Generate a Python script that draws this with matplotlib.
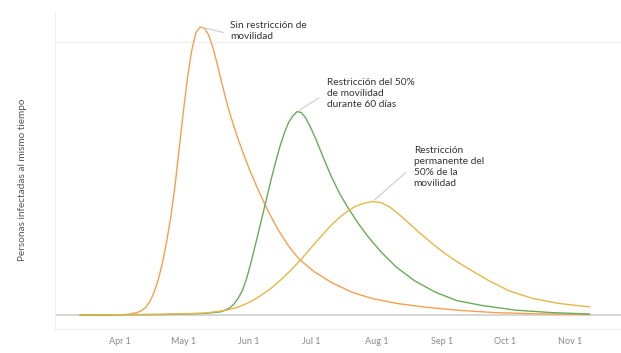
import matplotlib
matplotlib.use('Agg')
import matplotlib.pyplot as plt
import matplotlib.dates as mdates
import matplotlib.ticker as mticker
import pandas as pd

# Base date: day 0 = April 1
start = pd.Timestamp('2020-04-01')

# Sin restricción de movilidad (orange)
sin_dias = [-19, 0, 4, 8, 10, 12, 14, 16, 18, 20, 22, 24, 26, 28, 30, 32, 34, 36, 38,
            40, 42, 44, 46, 48, 50, 52, 55, 58, 62, 66, 70, 75, 80, 85, 92, 100, 110,
            120, 132, 145, 160, 178, 200, 223]
sin_vals = [0, 1, 3, 9, 16, 27, 49, 81, 128, 189, 267, 357, 471, 608, 746, 871, 970,
            1035, 1055, 1051, 1026, 981, 923, 859, 797, 741, 668, 602, 522, 451, 385,
            313, 253, 205, 160, 121, 84, 60, 42, 29, 18, 9, 4, 2]

# Restricción del 50% durante 60 días (green)
r60_dias = [-19, 20, 40, 48, 52, 54, 56, 58, 60, 62, 64, 66, 68, 70, 72, 74, 76, 78, 80,
            82, 84, 86, 88, 90, 93, 96, 100, 104, 108, 113, 118, 124, 131, 140, 150,
            160, 172, 188, 205, 223]
r60_vals = [0, 2, 6, 12, 26, 40, 61, 89, 132, 188, 250, 313, 377, 441, 505, 565, 620,
            667, 705, 729, 745, 742, 724, 695, 644, 587, 513, 449, 396, 337, 285, 231,
            177, 125, 83, 53, 35, 18, 9, 4]

# Restricción permanente del 50% (yellow)
perm_dias = [-19, 20, 40, 50, 56, 60, 64, 68, 72, 76, 80, 84, 88, 92, 96, 100, 104, 108,
             112, 116, 120, 124, 128, 132, 137, 142, 148, 154, 160, 167, 175, 185, 196,
             208, 223]
perm_vals = [0, 3, 7, 17, 29, 42, 58, 78, 100, 127, 156, 188, 222, 258, 293, 327, 356,
             380, 399, 410, 416, 412, 396, 372, 338, 303, 264, 227, 196, 163, 127, 88,
             61, 43, 30]

etiquetas = ['Sin restricción de\nmovilidad',
             'Restricción del 50%\nde movilidad\ndurante 60 días',
             'Restricción\npermanente del\n50% de la\nmovilidad']


def to_dates(dias):
    return start + pd.to_timedelta(dias, unit='D')


plt.rcParams['font.family'] = ['Lato', 'DejaVu Sans']

fig = plt.figure(figsize=(6.21, 3.53), dpi=100)
ax = fig.add_axes([55 / 621, 1 - 329 / 353, 1 - 55 / 621, (329 - 12) / 353])

series = [
    (sin_dias, sin_vals, '#f5a04f'),
    (r60_dias, r60_vals, '#6aaa58'),
    (perm_dias, perm_vals, '#e3b847'),
]
for dias, vals, color in series:
    ax.plot(to_dates(dias), vals, color=color, lw=1.0, zorder=3)

# axes limits
ax.set_xlim(start - pd.Timedelta(days=31), start + pd.Timedelta(days=238))
ax.set_ylim(-51, 1110)

# grid / frame
ax.axhline(0, color='#cfcfcf', lw=1.2, zorder=2)
ax.axhline(1000, color='#f0f0f0', lw=0.8, zorder=1)
for s in ['top', 'right']:
    ax.spines[s].set_visible(False)
ax.spines['left'].set_color('#efefef')
ax.spines['bottom'].set_color('#efefef')
ax.spines['left'].set_linewidth(0.8)
ax.spines['bottom'].set_linewidth(0.8)

ax.xaxis.set_major_locator(mdates.MonthLocator(bymonthday=1))
ax.xaxis.set_major_formatter(
    mticker.FuncFormatter(lambda v, p: '{:%b} {}'.format(mdates.num2date(v), mdates.num2date(v).day)))
ax.set_xticks([d for d in ax.get_xticks() if start <= mdates.num2date(d).replace(tzinfo=None) <= start + pd.Timedelta(days=215)])
ax.tick_params(axis='x', length=0, labelsize=6.5, labelcolor='#8a8a8a', pad=6)
ax.set_yticks([])

ax.set_ylabel('Personas infectadas al mismo tiempo', fontsize=7.2, color='#555555')
ax.yaxis.set_label_coords(-0.049, 0.47)

# annotations
peaks = [(sin_dias, sin_vals), (r60_dias, r60_vals), (perm_dias, perm_vals)]
leader_end = [(17, -4), (16, 10), (24, 21)]
text_off = [(21.5, 4.5), (21.5, 24.5), (29.5, 40)]
for (dias, vals), txt, le, to in zip(peaks, etiquetas, leader_end, text_off):
    i = vals.index(max(vals))
    xy = (to_dates([dias[i]])[0], vals[i])
    ax.annotate('', xy=xy, xytext=le, textcoords='offset points',
                arrowprops=dict(arrowstyle='-', color='#cccccc', lw=0.8,
                                shrinkA=0, shrinkB=2))
    ax.annotate(txt, xy=xy, xytext=to, textcoords='offset points',
                ha='left', va='top', fontsize=7.3, color='#333333', linespacing=1.3)

fig.savefig('out.png', dpi=100)
